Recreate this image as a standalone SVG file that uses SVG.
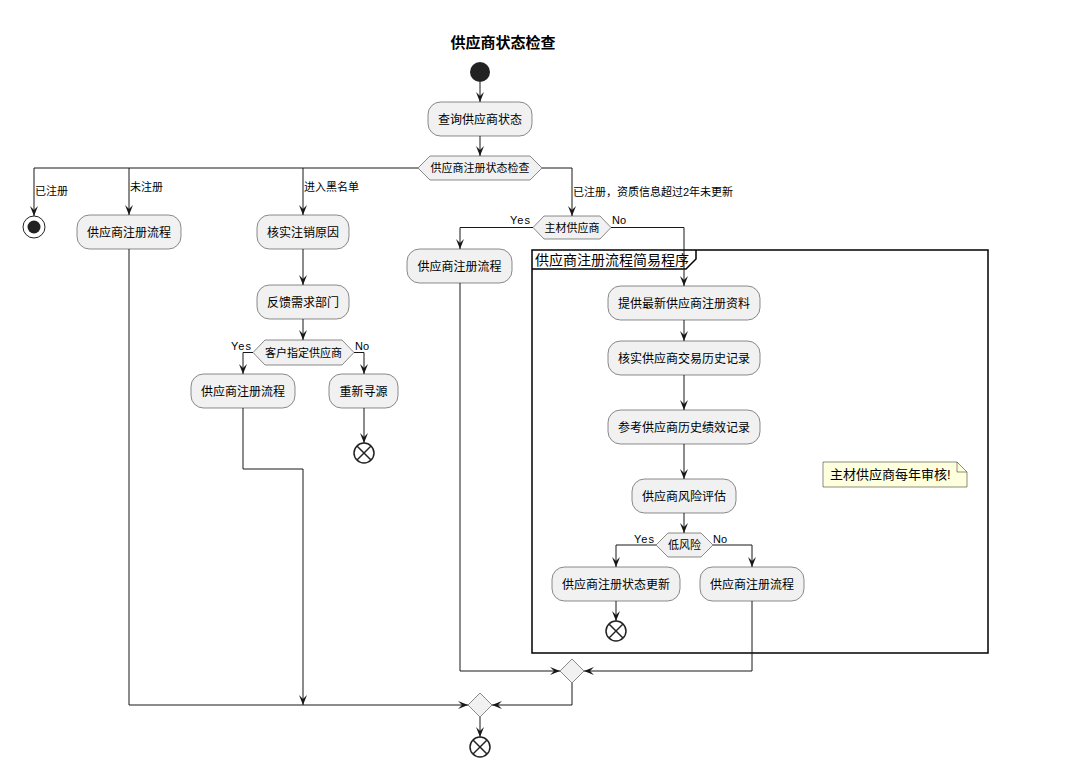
<svg xmlns="http://www.w3.org/2000/svg" width="1076" height="781" viewBox="0 0 1076 781">
<style>
text{font-family:"Liberation Sans","Noto Sans CJK SC",sans-serif;fill:#000}
.box rect{fill:#F1F1F1;stroke:#181818;stroke-width:0.5}
.box text{font-size:12px;text-anchor:middle}
.hex polygon{fill:#F1F1F1;stroke:#181818;stroke-width:0.5}
.hex text{font-size:11px;text-anchor:middle}
.lbl{font-size:11px}
.c{fill:none;stroke:#181818;stroke-width:1}
.stop circle{fill:#fff;stroke:#222;stroke-width:1.5}
.stop line{stroke:#222;stroke-width:1.5}
.merge polygon{fill:#F1F1F1;stroke:#181818;stroke-width:0.5}
</style>
<defs>
<marker id="ah" markerUnits="userSpaceOnUse" markerWidth="10" markerHeight="8" refX="10" refY="4" orient="auto">
<path d="M0,0 L10,4 L0,8 L4,4 Z" fill="#181818"/>
</marker>
</defs>
<rect width="1076" height="781" fill="#fff"/>
<text x="503" y="48" font-size="15" font-weight="bold" text-anchor="middle">供应商状态检查</text>

<g id="frame">
<rect x="532" y="250" width="456" height="403" fill="none" stroke="#000" stroke-width="1.5"/>
<path d="M532,269 H686 L696,259 V250" fill="none" stroke="#000" stroke-width="1.5"/>
<text x="535" y="265" font-size="14">供应商注册流程简易程序</text>
</g>

<g id="connectors">
<path class="c" d="M480,82 V102" marker-end="url(#ah)"/>
<path class="c" d="M480,136 V156" marker-end="url(#ah)"/>
<path class="c" d="M418,168 H34 V216" marker-end="url(#ah)"/>
<path class="c" d="M129,168 V215" marker-end="url(#ah)"/>
<path class="c" d="M303,168 V215" marker-end="url(#ah)"/>
<path class="c" d="M542,168 H572 V216" marker-end="url(#ah)"/>
<path class="c" d="M533,227.5 H460 V249" marker-end="url(#ah)"/>
<path class="c" d="M611,227.5 H684 V286" marker-end="url(#ah)"/>
<path class="c" d="M684,320 V341" marker-end="url(#ah)"/>
<path class="c" d="M684,375 V410" marker-end="url(#ah)"/>
<path class="c" d="M684,444 V479" marker-end="url(#ah)"/>
<path class="c" d="M684,513 V533" marker-end="url(#ah)"/>
<path class="c" d="M656,545 H616 V567" marker-end="url(#ah)"/>
<path class="c" d="M713,545 H752 V567" marker-end="url(#ah)"/>
<path class="c" d="M616,601 V621" marker-end="url(#ah)"/>
<path class="c" d="M752,601 V671 H584" marker-end="url(#ah)"/>
<path class="c" d="M460,283 V671 H560" marker-end="url(#ah)"/>
<path class="c" d="M572,683 V705 H492" marker-end="url(#ah)"/>
<path class="c" d="M129,249 V705 H468" marker-end="url(#ah)"/>
<path class="c" d="M303,249 V285" marker-end="url(#ah)"/>
<path class="c" d="M303,319 V340" marker-end="url(#ah)"/>
<path class="c" d="M253,352.5 H243 V374" marker-end="url(#ah)"/>
<path class="c" d="M354,352.5 H364 V374" marker-end="url(#ah)"/>
<path class="c" d="M364,408 V443" marker-end="url(#ah)"/>
<path class="c" d="M243,408 V469 H303 V705" marker-end="url(#ah)"/>
<path class="c" d="M480,717 V737" marker-end="url(#ah)"/>
<text class="lbl" x="35" y="195">已注册</text>
<text class="lbl" x="130" y="191">未注册</text>
<text class="lbl" x="304" y="191">进入黑名单</text>
<text class="lbl" x="573" y="196">已注册，资质信息超过2年未更新</text>
<text class="lbl" x="531" y="224" text-anchor="end" letter-spacing="1">Yes</text>
<text class="lbl" x="612" y="224">No</text>
<text class="lbl" x="252" y="350" text-anchor="end" letter-spacing="1">Yes</text>
<text class="lbl" x="355" y="350">No</text>
<text class="lbl" x="655" y="543" text-anchor="end" letter-spacing="1">Yes</text>
<text class="lbl" x="713" y="543">No</text>
</g>

<g id="start"><circle cx="480" cy="72" r="10" fill="#222"/></g>

<g id="n_query" class="box"><rect x="428" y="102" width="104" height="34" rx="12.5"/><text x="480" y="123.5">查询供应商状态</text></g>

<g id="d_status" class="hex"><polygon points="418,168 430,156 530,156 542,168 530,180 430,180"/><text x="480" y="172">供应商注册状态检查</text></g>

<g id="end_registered"><circle cx="34" cy="227" r="11" fill="#fff" stroke="#222" stroke-width="1"/><circle cx="34" cy="227" r="6.5" fill="#222"/></g>

<g id="n_reg1" class="box"><rect x="77" y="215" width="104" height="34" rx="12.5"/><text x="129" y="236.5">供应商注册流程</text></g>

<g id="n_verify" class="box"><rect x="257" y="215" width="92" height="34" rx="12.5"/><text x="303" y="236.5">核实注销原因</text></g>

<g id="n_feedback" class="box"><rect x="257" y="285" width="92" height="34" rx="12.5"/><text x="303" y="306.5">反馈需求部门</text></g>

<g id="d_customer" class="hex"><polygon points="253,352.5 265,340 342,340 354,352.5 342,365 265,365"/><text x="303.5" y="356.5">客户指定供应商</text></g>

<g id="n_reg2" class="box"><rect x="191" y="374" width="104" height="34" rx="12.5"/><text x="243" y="395.5">供应商注册流程</text></g>

<g id="n_resource" class="box"><rect x="329" y="374" width="69" height="34" rx="12.5"/><text x="363.5" y="395.5">重新寻源</text></g>

<g id="stop1" class="stop"><circle cx="364" cy="453" r="10"/><line x1="357" y1="446" x2="371" y2="460"/><line x1="371" y1="446" x2="357" y2="460"/></g>

<g id="d_main" class="hex"><polygon points="533,227.5 544,216 600,216 611,227.5 600,239 544,239"/><text x="572" y="231.5">主材供应商</text></g>

<g id="n_reg3" class="box"><rect x="407" y="249" width="105" height="34" rx="12.5"/><text x="459.5" y="270.5">供应商注册流程</text></g>

<g id="n_provide" class="box"><rect x="608" y="286" width="152" height="34" rx="12.5"/><text x="684" y="307.5">提供最新供应商注册资料</text></g>

<g id="n_history" class="box"><rect x="608" y="341" width="152" height="34" rx="12.5"/><text x="684" y="362.5">核实供应商交易历史记录</text></g>

<g id="n_perf" class="box"><rect x="608" y="410" width="152" height="34" rx="12.5"/><text x="684" y="431.5">参考供应商历史绩效记录</text></g>

<g id="n_risk" class="box"><rect x="632" y="479" width="104" height="34" rx="12.5"/><text x="684" y="500.5">供应商风险评估</text></g>

<g id="d_lowrisk" class="hex"><polygon points="656,545 668,533 701,533 713,545 701,557 668,557"/><text x="684.5" y="549">低风险</text></g>

<g id="n_update" class="box"><rect x="552" y="567" width="128" height="34" rx="12.5"/><text x="616" y="588.5">供应商注册状态更新</text></g>

<g id="n_reg4" class="box"><rect x="700" y="567" width="104" height="34" rx="12.5"/><text x="752" y="588.5">供应商注册流程</text></g>

<g id="stop2" class="stop"><circle cx="616" cy="631" r="10"/><line x1="609" y1="624" x2="623" y2="638"/><line x1="623" y1="624" x2="609" y2="638"/></g>

<g id="note">
<path d="M823,462 H957 L967,472 V487 H823 Z" fill="#FEFFDD" stroke="#181818" stroke-width="0.5"/>
<path d="M957,462 V472 H967" fill="none" stroke="#181818" stroke-width="0.5"/>
<text x="830" y="479" font-size="13">主材供应商每年审核!</text>
</g>

<g id="merge1" class="merge"><polygon points="572,659 584,671 572,683 560,671"/></g>

<g id="merge2" class="merge"><polygon points="480,693 492,705 480,717 468,705"/></g>

<g id="stop3" class="stop"><circle cx="480" cy="747" r="10"/><line x1="473" y1="740" x2="487" y2="754"/><line x1="487" y1="740" x2="473" y2="754"/></g>
</svg>
